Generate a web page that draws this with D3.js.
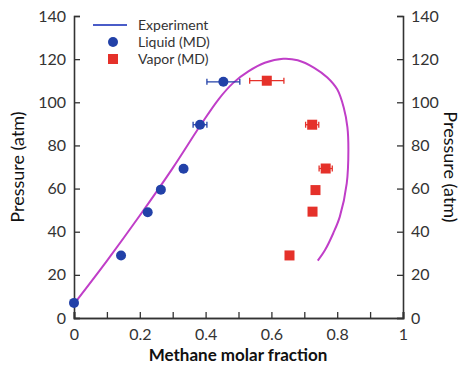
<!DOCTYPE html>
<html><head><meta charset="utf-8">
<script src="https://cdn.jsdelivr.net/npm/d3@7"></script>
<style>body{margin:0;background:#fff}svg{display:block}text{font-family:Lato,"Open Sans",sans-serif;fill:#333}</style>
</head><body><svg id="c" width="468" height="373"></svg>
<script>
const expX = [0, 0.1, 0.2, 0.3, 0.383, 0.44, 0.484, 0.53, 0.58, 0.636, 0.68, 0.73, 0.77, 0.8, 0.82, 0.831, 0.834, 0.829, 0.808, 0.788, 0.763, 0.741];
const expP = [6.5, 26.5, 47.5, 69.5, 89, 101.5, 109, 114.3, 118.3, 120.2, 119.5, 116, 111.5, 106, 97.5, 88.5, 78, 62.4, 47, 39.3, 31.5, 26.6];
const liqX = [0, 0.143, 0.224, 0.264, 0.333, 0.383, 0.454];
const liqP = [7, 29, 49, 59.5, 69.2, 89.6, 109.5];
const liqErr = [0, 0, 0, 0, 0, 0.021, 0.05];
const vapX = [0.586, 0.724, 0.765, 0.734, 0.725, 0.655];
const vapP = [110, 89.6, 69.3, 59.3, 49.3, 29];
const vapErr = [0.052, 0.02, 0.02, 0, 0, 0];
const xTicks = [0, 0.2, 0.4, 0.6, 0.8, 1];
const xMinor = [0.1, 0.3, 0.5, 0.7, 0.9];
const yTicks = [0, 20, 40, 60, 80, 100, 120, 140];

const svg = d3.select("#c");
const x = d3.scaleLinear().domain([0, 1]).range([74, 403]);
const y = d3.scaleLinear().domain([0, 140]).range([318, 16]);
const axisCol = "#333";
const blue = "#2241a8", red = "#e5312a", mag = "#c03ec8";

// axes
const gx = svg.append("g").attr("transform", "translate(0,318)")
  .call(d3.axisBottom(x).tickValues(xTicks).tickSize(-6).tickPadding(8).tickFormat(d => d3.format("")(d)));
const gxm = svg.append("g").attr("transform", "translate(0,318)")
  .call(d3.axisBottom(x).tickValues(xMinor).tickSize(-6).tickFormat(""));
const gl = svg.append("g").attr("transform", "translate(74,0)")
  .call(d3.axisLeft(y).tickValues(yTicks).tickSize(-6).tickPadding(8));
const gr = svg.append("g").attr("transform", "translate(403,0)")
  .call(d3.axisRight(y).tickValues(yTicks).tickSize(-6).tickPadding(8));
[gx, gxm, gl, gr].forEach(g => {
  g.selectAll("path.domain").attr("stroke", axisCol).attr("stroke-width", 1.6);
  g.selectAll(".tick line").attr("stroke", axisCol).attr("stroke-width", 1.3);
  g.selectAll(".tick text").style("font-size", "16px").style("fill", "#333");
});
gx.selectAll(".tick text").attr("dy", "0.9em");

// experiment curve
const pts = expX.map((d, i) => [x(d), y(expP[i])]);
svg.append("path").attr("d", d3.line().curve(d3.curveCatmullRom.alpha(0.5))(pts))
  .attr("fill", "none").attr("stroke", mag).attr("stroke-width", 2);

// error bars
function errBars(xs, ps, es, col) {
  xs.forEach((d, i) => {
    if (!es[i]) return;
    const x0 = x(d - es[i]), x1 = x(d + es[i]), yy = y(ps[i]);
    const g = svg.append("g").attr("stroke", col).attr("stroke-width", 1.3);
    g.append("line").attr("x1", x0).attr("x2", x1).attr("y1", yy).attr("y2", yy);
    g.append("line").attr("x1", x0).attr("x2", x0).attr("y1", yy - 3).attr("y2", yy + 3);
    g.append("line").attr("x1", x1).attr("x2", x1).attr("y1", yy - 3).attr("y2", yy + 3);
  });
}
errBars(liqX, liqP, liqErr, blue);
errBars(vapX, vapP, vapErr, red);

svg.append("g").selectAll("circle").data(liqX).join("circle")
  .attr("cx", d => x(d)).attr("cy", (d, i) => y(liqP[i])).attr("r", 5).attr("fill", blue);
svg.append("g").selectAll("rect").data(vapX).join("rect")
  .attr("x", d => x(d) - 5).attr("y", (d, i) => y(vapP[i]) - 5).attr("width", 10).attr("height", 10).attr("fill", red);

// legend
const lg = svg.append("g");
lg.append("line").attr("x1", 93).attr("x2", 127).attr("y1", 25).attr("y2", 25).attr("stroke", "#4a5cc8").attr("stroke-width", 2);
lg.append("circle").attr("cx", 113).attr("cy", 42).attr("r", 5).attr("fill", blue);
lg.append("rect").attr("x", 108).attr("y", 54).attr("width", 10).attr("height", 10).attr("fill", red);
["Experiment", "Liquid (MD)", "Vapor (MD)"].forEach((t, i) => {
  lg.append("text").attr("x", 138).attr("y", 25 + 17 * i).attr("dy", "0.35em").style("font-size", "14px").text(t);
});

// axis titles
svg.append("text").attr("x", 238).attr("y", 361).attr("text-anchor", "middle")
  .style("font-size", "17px").style("font-weight", "bold").style("fill", "#111").text("Methane molar fraction");
svg.append("text").attr("transform", "translate(24,167) rotate(-90)").attr("text-anchor", "middle")
  .style("font-size", "18px").style("fill", "#111").text("Pressure (atm)");
svg.append("text").attr("transform", "translate(444,167) rotate(90)").attr("text-anchor", "middle")
  .style("font-size", "18px").style("fill", "#111").text("Pressure (atm)");
</script></body></html>
